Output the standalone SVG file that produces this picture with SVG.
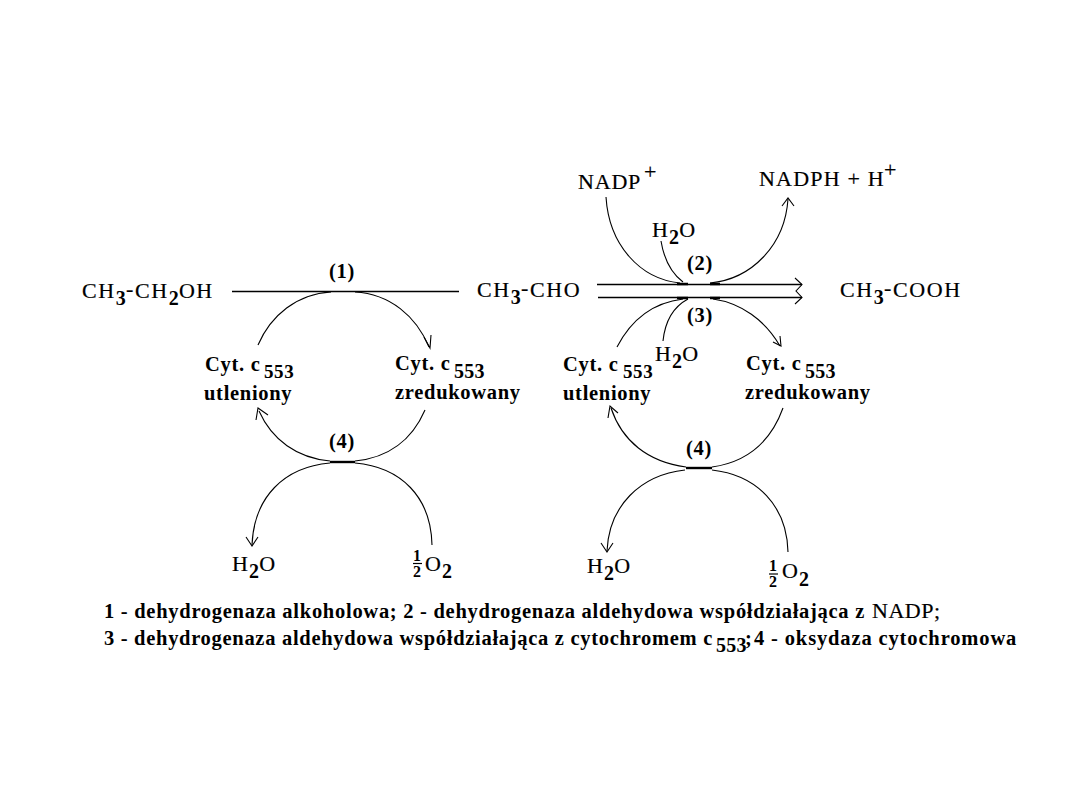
<svg xmlns="http://www.w3.org/2000/svg" width="1080" height="810" viewBox="0 0 1080 810">
<style>
text{font-family:"Liberation Serif","Times New Roman",serif;fill:#000;font-size:22px;letter-spacing:1.2px;stroke:#000;stroke-width:.2px}
.m{letter-spacing:1.6px}
.b{font-weight:bold;font-size:20.5px;letter-spacing:.7px;stroke-width:0}
.n{letter-spacing:.8px}
.f{font-weight:bold;font-size:16px;letter-spacing:0;stroke-width:0}
.s{font-size:20px;font-weight:bold;letter-spacing:.2px;stroke-width:0}
.u{font-size:19px;font-weight:bold;letter-spacing:.6px;stroke-width:0}
.c{fill:none;stroke:#000;stroke-width:1.1}
.t{fill:none;stroke:#000;stroke-width:2.4}
.r{fill:none;stroke:#000;stroke-width:1.6}
</style>
<rect width="1080" height="810" fill="#fff"/>
<g id="connectors">
<!-- left cycle -->
<path class="r" d="M232 291.500H459"/>
<path class="c" d="M258 345C271 315 297 294 331 292M355 292C390 294 416 316 429 347"/>
<path class="c" d="M424 337L430 348L431 335"/>
<path class="c" d="M425 410C412 440 388 458 355 461"/>
<path class="t" d="M330 462H355"/>
<path class="c" d="M330 461C297 458 272 440 259 411"/>
<path class="c" d="M256 420L258 408L268 415"/>
<path class="c" d="M330 463C284 467 254 497 252 545M355 463C401 467 431 497 432 545"/>
<path class="c" d="M246 537L252 546L258 537"/>
<!-- right cycle -->
<path class="r" d="M597 284.500H802M598 297.500H802"/>
<path class="c" d="M795 278L802 284.500L796 291L802 297.500L795 304"/>
<path class="c" d="M606 197C609 245 640 279 680 283M710 283C752 279 785 245 788 199"/>
<path class="c" d="M782 206L788 198L794 206"/>
<path class="c" d="M661 241C664 259 671 273 683 282"/>
<path class="c" d="M617 347C630 322 650 303 683 299M713 299C741 303 765 320 780 346"/>
<path class="c" d="M773 342L781 346L780 336"/>
<path class="c" d="M663 341C665 322 673 307 688 299"/>
<path class="t" d="M677 284H688M710 284H720M677 298H688M710 298H720"/>
<path class="c" d="M783 408C771 441 747 462 712 467"/>
<path class="t" d="M686 468H712"/>
<path class="c" d="M686 467C648 462 622 441 611 408"/>
<path class="c" d="M608 418L610 406L618 413"/>
<path class="c" d="M685 470C640 475 609 506 607 551M712 470C757 475 787 506 788 552"/>
<path class="c" d="M601 543L607 552L613 543"/>
</g>
<g id="ethanol"><text class="m" x="82" y="298">CH<tspan dy="7" class="s">3</tspan><tspan dy="-9">-</tspan><tspan dy="2">CH</tspan><tspan dy="7" class="s">2</tspan><tspan dy="-7">OH</tspan></text></g>
<g id="acetaldehyde"><text class="m" x="477" y="297">CH<tspan dy="7" class="s">3</tspan><tspan dy="-9">-</tspan><tspan dy="2">CHO</tspan></text></g>
<g id="acetic-acid"><text class="m" x="840" y="297">CH<tspan dy="7" class="s">3</tspan><tspan dy="-9">-</tspan><tspan dy="2">COOH</tspan></text></g>
<g id="nadp"><text class="n" x="578" y="189">NADP<tspan x="644" dy="-10">+</tspan></text></g>
<g id="nadph"><text x="759" y="186">NADPH + H<tspan x="884" dy="-9">+</tspan></text></g>
<g id="water-2"><text x="652" y="237">H<tspan dy="7" class="s">2</tspan><tspan dy="-7">O</tspan></text></g>
<g id="water-3"><text x="655" y="361">H<tspan dy="7" class="s">2</tspan><tspan dy="-7">O</tspan></text></g>
<g id="step-1"><text class="b" x="329" y="278">(1)</text></g>
<g id="step-2"><text class="b" x="687" y="270">(2)</text></g>
<g id="step-3"><text class="b" x="687" y="322">(3)</text></g>
<g id="step-4a"><text class="b" x="329" y="448">(4)</text></g>
<g id="step-4b"><text class="b" x="686" y="455">(4)</text></g>
<g id="cyt-ox-left"><text class="b" x="205" y="371">Cyt. c<tspan x="264" dy="7" class="u">553</tspan></text><text class="b" x="204" y="400">utleniony</text></g>
<g id="cyt-red-left"><text class="b" x="395" y="370">Cyt. c<tspan x="454" dy="8" class="s">553</tspan></text><text class="b" x="395" y="399">zredukowany</text></g>
<g id="cyt-ox-right"><text class="b" x="563" y="371">Cyt. c<tspan x="623" dy="7" class="u">553</tspan></text><text class="b" x="563" y="400">utleniony</text></g>
<g id="cyt-red-right"><text class="b" x="746" y="370">Cyt. c<tspan x="805" dy="8" class="s">553</tspan></text><text class="b" x="745" y="399">zredukowany</text></g>
<g id="water-4a"><text x="232" y="571">H<tspan dy="7" class="s">2</tspan><tspan dy="-7">O</tspan></text></g>
<g id="water-4b"><text x="587" y="573">H<tspan dy="7" class="s">2</tspan><tspan dy="-7">O</tspan></text></g>
<g id="oxygen-a"><text class="f" x="413" y="561">1</text><path d="M413 563.500H422" stroke="#000" stroke-width="1.2"/><text class="f" x="413" y="577">2</text><text x="425" y="571">O<tspan dy="7" class="s">2</tspan></text></g>
<g id="oxygen-b"><text class="f" x="769" y="571">1</text><path d="M769 574H778" stroke="#000" stroke-width="1.2"/><text class="f" x="769" y="587">2</text><text x="782" y="578">O<tspan dy="8" class="s">2</tspan></text></g>
<g id="legend">
<text class="b" x="104" y="618" textLength="761">1 - dehydrogenaza alkoholowa; 2 - dehydrogenaza aldehydowa współdziałająca z</text>
<text class="n" x="872" y="618" textLength="69">NADP;</text>
<text class="b" x="104" y="645" textLength="609">3 - dehydrogenaza aldehydowa współdziałająca z cytochromem c</text>
<text class="s" x="716" y="652">553</text>
<text class="b" x="745" y="645">;</text>
<text class="b" x="754" y="645" textLength="263">4 - oksydaza cytochromowa</text>
</g>
</svg>
